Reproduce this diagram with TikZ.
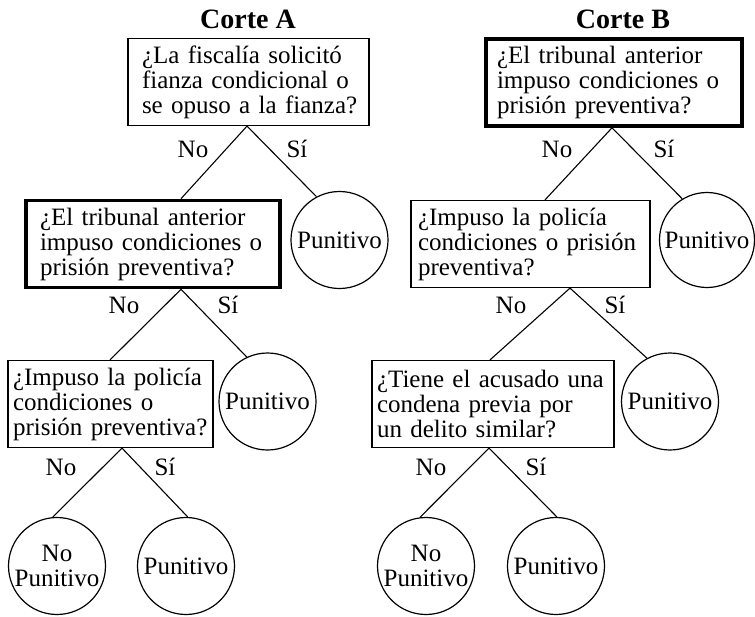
\documentclass[tikz,border=0pt]{standalone}
\usepackage{fontspec}
\setmainfont{Liberation Serif}
\begin{document}
\begin{tikzpicture}[x=1pt,y=-1pt,
  txt/.style={font=\fontsize{25}{25}\selectfont},
  qbox/.style={txt, draw, line width=1.2pt, align=left, inner ysep=0pt, minimum height=87pt},
  thickbox/.style={qbox, line width=3.6pt},
  leaf/.style={txt, draw, circle, line width=1.2pt, inner sep=0pt, minimum size=97pt, align=center},
  lab/.style={txt, inner sep=0pt},
  ttl/.style={font=\fontsize{28}{30}\selectfont\bfseries, inner sep=0pt},
  edge/.style={line width=1.1pt}]
\useasboundingbox[fill=white] (0,0) rectangle (755,616);

% titles
\node[ttl] (tA) at (248,19) {Corte A};
\node[ttl] (tB) at (623,19) {Corte B};

% Corte A
\node[qbox, inner xsep=14pt, text width=213pt] (a1) at (248.5,82)
  {\mbox{¿La fiscalía solicitó}\\\mbox{fianza condicional o}\\\mbox{se opuso a la fianza?}};
\node[thickbox, inner xsep=14pt, text width=226pt] (a2) at (153,244)
  {\mbox{¿El tribunal anterior}\\\mbox{impuso condiciones o}\\\mbox{prisión preventiva?}};
\node[leaf] (ca2) at (339.5,240) {Punitivo};
\node[qbox, inner xsep=5pt, text width=195pt] (a3) at (110.5,404)
  {\mbox{¿Impuso la policía}\\\mbox{condiciones o}\\\mbox{prisión preventiva?}};
\node[leaf] (ca3) at (267.5,401.5) {Punitivo};
\node[leaf] (ca4n) at (57,566) {No\\Punitivo};
\node[leaf] (ca4p) at (186,566) {Punitivo};

% Corte B
\node[thickbox, inner xsep=11pt, text width=234pt] (b1) at (614,82.5)
  {\mbox{¿El tribunal anterior}\\\mbox{impuso condiciones o}\\\mbox{prisión preventiva?}};
\node[qbox, inner xsep=7pt, text width=225pt] (b2) at (530.5,244)
  {\mbox{¿Impuso la policía}\\\mbox{condiciones o prisión}\\\mbox{preventiva?}};
\node[leaf, minimum size=95pt] (cb2) at (707,240) {Punitivo};
\node[qbox, inner xsep=5pt, text width=232pt] (b3) at (493,404)
  {\mbox{¿Tiene el acusado una}\\\mbox{condena previa por}\\\mbox{un delito similar?}};
\node[leaf] (cb3) at (670,401.5) {Punitivo};
\node[leaf] (cb4n) at (426,566) {No\\Punitivo};
\node[leaf] (cb4p) at (556,566) {Punitivo};

% x positions of branch points
\coordinate (xa1) at (247,0);
\coordinate (xa2top) at (181,0);
\coordinate (xa2) at (181,0);
\coordinate (xa3top) at (110,0);
\coordinate (xa3) at (122,0);
\coordinate (xb1) at (612,0);
\coordinate (xb2top) at (545,0);
\coordinate (xb2) at (570,0);
\coordinate (xb3top) at (490,0);
\coordinate (xb3) at (489,0);

% connectors
\draw[edge] (a2.north -| xa2top) -- (a1.south -| xa1) -- (ca2.118);
\draw[edge] (a3.north -| xa3top) -- (a2.south -| xa2) -- (ca3.115);
\draw[edge] (ca4n.95) -- (a3.south -| xa3) -- (ca4p.88);
\draw[edge] (b2.north -| xb2top) -- (b1.south -| xb1) -- (cb2.121);
\draw[edge] (b3.north -| xb3top) -- (b2.south -| xb2) -- (cb3.118);
\draw[edge] (cb4n.97) -- (b3.south -| xb3) -- (cb4p.89);

% branch labels
\node[lab] (la1n) at (193,149) {No};
\node[lab] (la1s) at (297,149) {Sí};
\node[lab] (la2n) at (124,305) {No};
\node[lab] (la2s) at (228,305) {Sí};
\node[lab] (la3n) at (61,467) {No};
\node[lab] (la3s) at (165,467) {Sí};
\node[lab] (lb1n) at (557,149) {No};
\node[lab] (lb1s) at (664,149) {Sí};
\node[lab] (lb2n) at (511,305) {No};
\node[lab] (lb2s) at (615,305) {Sí};
\node[lab] (lb3n) at (431,467) {No};
\node[lab] (lb3s) at (536,467) {Sí};
\end{tikzpicture}
\end{document}
